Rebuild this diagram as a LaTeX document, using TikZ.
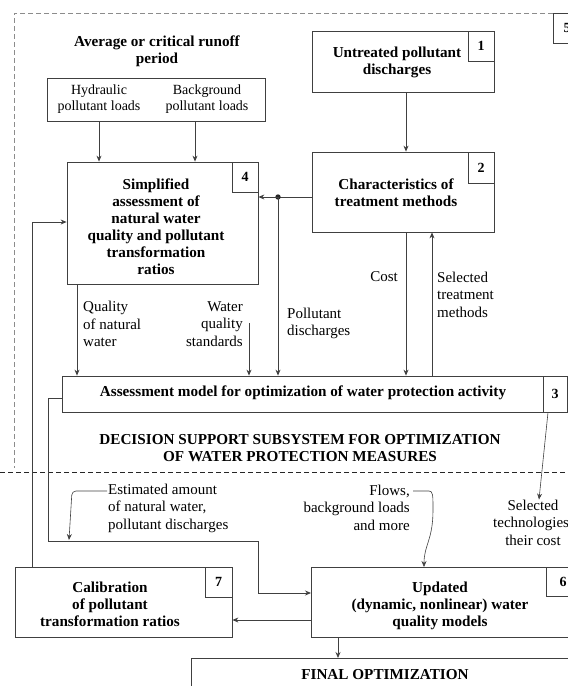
\documentclass[tikz,border=0pt]{standalone}
\usepackage{fontspec}
\setmainfont{Liberation Serif}
\usetikzlibrary{arrows.meta}
\begin{document}
\begin{tikzpicture}[x=1pt,y=-1pt,
  ln/.style={draw=black!75, line width=0.8pt},
  box/.style={ln, rectangle, inner sep=0pt},
  num/.style={box, font=\bfseries\fontsize{14}{16}\selectfont},
  arr/.style={ln, -{Stealth[length=6pt,width=5pt]}},
  btxt/.style={font=\bfseries\fontsize{15.2}{17}\selectfont, align=center, inner sep=0pt},
  ntxt/.style={font=\fontsize{15}{17.5}\selectfont, inner sep=0pt},
  stxt/.style={font=\fontsize{14}{16}\selectfont, align=center, inner sep=0pt},
]
\useasboundingbox (0,0) rectangle (568,686);

% frame of subsystem 5
\draw[draw=black!45, line width=0.8pt, dash pattern=on 5pt off 3pt] (553,13) -- (14,13) -- (14,468);
\draw[ln] (553,13) rectangle (600,43);
\node[num, draw=none] (n5) at (567,28) {5};
\draw[draw=black!85, line width=0.9pt, dash pattern=on 5pt off 3pt] (0,472) -- (568,472);

% boxes
\node[box, minimum width=182pt, minimum height=61pt] (b1) at (403,61.5) {};
\node[num, minimum width=26pt, minimum height=30pt, anchor=north east] (n1) at (b1.north east) {1};
\node[btxt] (t1) at (397,62) {Untreated pollutant\\discharges};

\node[box, minimum width=182pt, minimum height=80pt] (b2) at (403,192) {};
\node[num, minimum width=26pt, minimum height=31pt, anchor=north east] (n2) at (b2.north east) {2};
\node[btxt] (t2) at (396,192.5) {Characteristics of\\treatment methods};

\node[btxt] (tav) at (157,51.5) {Average or critical runoff\\period};
\node[box, minimum width=218pt, minimum height=43pt] (hb) at (156,99.5) {};
\node[stxt] (th) at (99,99.5) {Hydraulic\\pollutant loads};
\node[stxt] (tb) at (207,99.5) {Background\\pollutant loads};

\node[box, minimum width=191pt, minimum height=122pt] (b4) at (162.5,223) {};
\node[num, minimum width=26pt, minimum height=30pt, anchor=north east] (n4) at (b4.north east) {4};
\node[btxt] (t4) at (156,227) {Simplified\\assessment of\\natural water\\quality and pollutant\\transformation\\ratios};

\node[box, minimum width=505pt, minimum height=36pt] (b3) at (314.5,394) {};
\node[num, minimum width=24pt, minimum height=36pt, anchor=north east] (n3) at (b3.north east) {3};
\node[btxt] (t3) at (303,393) {Assessment model for optimization of water protection activity};

\node[btxt] (tdss) at (300,448) {DECISION SUPPORT SUBSYSTEM FOR OPTIMIZATION\\OF WATER PROTECTION MEASURES};

\node[box, minimum width=217pt, minimum height=70pt] (b7) at (123.5,602) {};
\node[num, minimum width=27pt, minimum height=30pt, anchor=north east] (n7) at (b7.north east) {7};
\node[btxt] (t7) at (110,604) {Calibration\\of pollutant\\transformation ratios};

\node[box, minimum width=320pt, minimum height=70pt, anchor=north west] (b6) at (311,567) {};
\draw[ln] (546,567) rectangle (600,596);
\node[num, draw=none] (n6) at (563,581.5) {6};
\node[btxt] (t6) at (440,606) {Updated\\(dynamic, nonlinear) water\\quality models};

\node[box, minimum width=500pt, minimum height=60pt, anchor=north west] (bf) at (191,658) {};
\node[btxt] (tf) at (385,675) {FINAL OPTIMIZATION};

% labels
\node[ntxt, align=left, anchor=west] (lq) at (83,324) {Quality\\of natural\\water};
\node[ntxt, align=right, anchor=east] (lw) at (243,324) {Water\\quality\\standards};
\node[ntxt, align=left, anchor=west] (lp) at (287,323.5) {Pollutant\\discharges};
\node[ntxt, anchor=east] (lc) at (398,277) {Cost};
\node[ntxt, align=left, anchor=west] (ls) at (437,294.5) {Selected\\treatment\\methods};
\node[ntxt, align=left, anchor=west] (le) at (108,508) {Estimated amount\\of natural water,\\pollutant discharges};
\node[ntxt, align=right, anchor=east] (lf) at (410,507.5) {Flows,\\background loads\\and more};
\node[ntxt, align=center] (lt) at (533,522.5) {Selected\\technologies,\\their cost};

% helper coordinates
\coordinate (x406) at (406,0);
\coordinate (x432) at (432,0);
\coordinate (x99) at (99,0);
\coordinate (x195) at (195,0);
\coordinate (x77) at (77,0);
\coordinate (x338) at (338,0);
\coordinate (x424) at (424,0);
\coordinate (x539) at (539,0);
\coordinate (x548) at (548,0);
\coordinate (dot) at (278,197);
\coordinate (ws) at (249,323);
\coordinate (c4in) at (32,222);
\coordinate (p1) at (48,398);
\coordinate (p2) at (48,541);
\coordinate (p3) at (258,541);
\coordinate (p4) at (258,593);
\coordinate (p5) at (0,620);
\coordinate (e1) at (107,491);
\coordinate (e2) at (72,491);
\coordinate (e3) at (69,540);
\coordinate (f1) at (413,491);

% connectors
\draw[arr] (b1.south -| x406) -- (b2.north -| x406);
\draw[arr] (hb.south -| x99) -- (b4.north -| x99);
\draw[arr] (hb.south -| x195) -- (b4.north -| x195);
\draw[ln] (b2.west |- dot) -- (dot);
\fill[black!85] (dot) circle (2.7pt);
\draw[arr] (dot) -- (b4.east |- dot);
\draw[arr] (dot) -- (dot |- b3.north);
\draw[arr] (b2.south -| x406) -- (x406 |- b3.north);
\draw[arr] (b3.north -| x432) -- (x432 |- b2.south);
\draw[arr] (b4.south -| x77) -- (x77 |- b3.north);
\draw[arr] (ws) -- (ws |- b3.north);
\draw[arr] (b7.north -| c4in) -- (c4in) -- (b4.west |- c4in);
\draw[arr] (b3.west |- p1) -- (p1) -- (p2) -- (p3) -- (p4) -- (b6.west |- p4);
\draw[arr] (b6.west |- p5) -- (b7.east |- p5);
\draw[arr] (b6.south -| x338) -- (x338 |- bf.north);
\draw[arr, line width=0.6pt] (n3.south -| x548) -- (lt.north -| x539);
\draw[arr, line width=0.6pt, rounded corners=4pt] (e1) -- (e2) -- (e3);
\draw[arr, line width=0.6pt] (f1) -- (429,491) .. controls (433,491) and (433,495) .. (433,510) .. controls (433,540) and (424,545) .. (b6.north -| x424);
\end{tikzpicture}
\end{document}
